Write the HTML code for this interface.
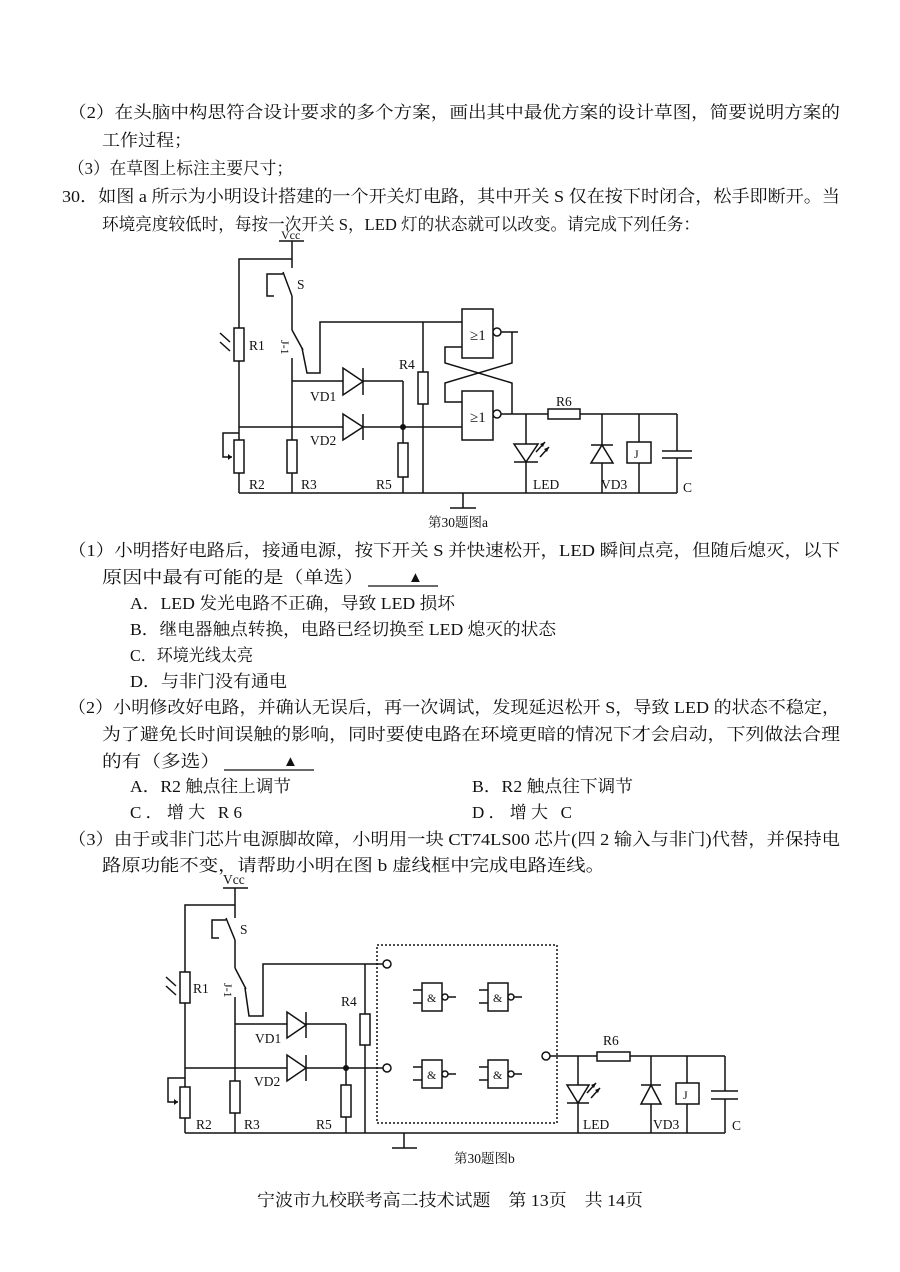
<!DOCTYPE html>
<html><head><meta charset="utf-8"><style>
html,body{margin:0;padding:0;background:#fff;}
svg{display:block;}
text{font-family:"Liberation Serif","Noto Serif CJK SC",serif;fill:#111;}
.t{font-size:17px;}
.s{font-size:13.5px;}
</style></head><body>
<svg width="900" height="1272" viewBox="0 0 900 1272" xmlns="http://www.w3.org/2000/svg">
<rect width="900" height="1272" fill="#fff"/>
<g class="t">
<text x="68" y="118" textLength="772" lengthAdjust="spacingAndGlyphs">（2）在头脑中构思符合设计要求的多个方案，画出其中最优方案的设计草图，简要说明方案的</text>
<text x="102" y="146" textLength="90" lengthAdjust="spacingAndGlyphs">工作过程；</text>
<text x="68" y="174" textLength="225" lengthAdjust="spacingAndGlyphs">（3）在草图上标注主要尺寸；</text>
<text x="62" y="202" textLength="778" lengthAdjust="spacingAndGlyphs">30．如图 a 所示为小明设计搭建的一个开关灯电路，其中开关 S 仅在按下时闭合，松手即断开。当</text>
<text x="102" y="230" textLength="598" lengthAdjust="spacingAndGlyphs">环境亮度较低时，每按一次开关 S，LED 灯的状态就可以改变。请完成下列任务：</text>

<text x="68" y="556" textLength="772" lengthAdjust="spacingAndGlyphs">（1）小明搭好电路后，接通电源，按下开关 S 并快速松开，LED 瞬间点亮，但随后熄灭，以下</text>
<text x="102" y="583" textLength="262" lengthAdjust="spacingAndGlyphs">原因中最有可能的是（单选）</text>
<text x="408" y="582" style="font-size:15px">▲</text>
<text x="130" y="609" textLength="325" lengthAdjust="spacingAndGlyphs">A．LED 发光电路不正确，导致 LED 损坏</text>
<text x="130" y="635" textLength="426" lengthAdjust="spacingAndGlyphs">B．继电器触点转换，电路已经切换至 LED 熄灭的状态</text>
<text x="130" y="661" textLength="123" lengthAdjust="spacingAndGlyphs">C．环境光线太亮</text>
<text x="130" y="687" textLength="157" lengthAdjust="spacingAndGlyphs">D．与非门没有通电</text>
<text x="68" y="713" textLength="772" lengthAdjust="spacingAndGlyphs">（2）小明修改好电路，并确认无误后，再一次调试，发现延迟松开 S，导致 LED 的状态不稳定，</text>
<text x="102" y="740" textLength="738" lengthAdjust="spacingAndGlyphs">为了避免长时间误触的影响，同时要使电路在环境更暗的情况下才会启动，下列做法合理</text>
<text x="102" y="767" textLength="118" lengthAdjust="spacingAndGlyphs">的有（多选）</text>
<text x="283" y="766" style="font-size:15px">▲</text>
<text x="130" y="792" textLength="161" lengthAdjust="spacingAndGlyphs">A．R2 触点往上调节</text>
<text x="472" y="792" textLength="161" lengthAdjust="spacingAndGlyphs">B．R2 触点往下调节</text>
<text x="130" y="818" textLength="112" lengthAdjust="spacing">C．增大 R6</text>
<text x="472" y="818" textLength="100" lengthAdjust="spacing">D．增大 C</text>
<text x="68" y="845" textLength="772" lengthAdjust="spacingAndGlyphs">（3）由于或非门芯片电源脚故障，小明用一块 CT74LS00 芯片(四 2 输入与非门)代替，并保持电</text>
<text x="102" y="871" textLength="503" lengthAdjust="spacingAndGlyphs">路原功能不变，请帮助小明在图 b 虚线框中完成电路连线。</text>

<text x="257" y="1206" textLength="386" lengthAdjust="spacingAndGlyphs">宁波市九校联考高二技术试题　第 13页　共 14页</text>
</g>
<line x1="368" y1="586" x2="438" y2="586" stroke="#111" stroke-width="1.3"/>
<line x1="224" y1="770" x2="314" y2="770" stroke="#111" stroke-width="1.3"/>

<!-- Circuit a -->
<g stroke="#111" stroke-width="1.5" fill="none">
<line x1="279" y1="241" x2="304" y2="241"/>
<line x1="292" y1="241" x2="292" y2="268"/>
<polyline points="292,259 239,259 239,493"/>
<rect x="234" y="328" width="10" height="33" fill="#fff"/>
<line x1="220" y1="333" x2="230" y2="342"/><line x1="220" y1="342" x2="230" y2="351"/>
<polyline points="283,274 267,274 267,296 274,296"/>
<line x1="283" y1="272" x2="292" y2="296"/>
<line x1="292" y1="296" x2="292" y2="330"/>
<line x1="292" y1="330" x2="303" y2="350"/>
<line x1="292" y1="358" x2="292" y2="493"/>
<polyline points="302,348 307,373 320,373 320,322 462,322"/>
<line x1="292" y1="381" x2="403" y2="381"/>
<line x1="403" y1="381" x2="403" y2="443"/>
<rect x="398" y="443" width="10" height="34" fill="#fff"/>
<line x1="403" y1="477" x2="403" y2="493"/>
<polygon points="343,368 343,395 363,381.5" fill="#fff"/><line x1="363" y1="368" x2="363" y2="395"/>
<line x1="239" y1="427" x2="462" y2="427"/>
<polygon points="343,414 343,440 363,427" fill="#fff"/><line x1="363" y1="414" x2="363" y2="440"/>
<line x1="423" y1="322" x2="423" y2="372"/>
<rect x="418" y="372" width="10" height="32" fill="#fff"/>
<line x1="423" y1="404" x2="423" y2="493"/>
<rect x="287" y="440" width="10" height="33" fill="#fff"/>
<rect x="234" y="440" width="10" height="33" fill="#fff"/>
<polyline points="239,433 223,433 223,457 232,457"/>
<rect x="462" y="309" width="31" height="49" fill="#fff"/>
<circle cx="497" cy="332" r="4" fill="#fff"/>
<line x1="501" y1="332" x2="518" y2="332"/>
<polyline points="512,332 512,363 445,383 445,402 462,402"/>
<polyline points="462,347 445,347 445,363 512,383 512,414"/>
<rect x="462" y="391" width="31" height="49" fill="#fff"/>
<circle cx="497" cy="414" r="4" fill="#fff"/>
<line x1="501" y1="414" x2="677" y2="414"/>
<rect x="548" y="409" width="32" height="10" fill="#fff"/>
<line x1="526" y1="414" x2="526" y2="493"/>
<polygon points="514,444 538,444 526,462" fill="#fff"/><line x1="514" y1="462" x2="538" y2="462"/>
<line x1="536" y1="452" x2="545" y2="442"/><line x1="540" y1="457" x2="549" y2="447"/>
<line x1="602" y1="414" x2="602" y2="493"/>
<polygon points="591,463 613,463 602,445" fill="#fff"/><line x1="591" y1="445" x2="613" y2="445"/>
<line x1="639" y1="414" x2="639" y2="493"/>
<rect x="627" y="442" width="24" height="21" fill="#fff"/>
<line x1="677" y1="414" x2="677" y2="451"/><line x1="677" y1="458" x2="677" y2="493"/>
<line x1="662" y1="451" x2="692" y2="451"/><line x1="662" y1="458" x2="692" y2="458"/>
<line x1="239" y1="493" x2="677" y2="493"/>
<line x1="463" y1="493" x2="463" y2="508"/><line x1="450" y1="508" x2="476" y2="508"/>
</g>
<circle cx="403" cy="427" r="3" fill="#111"/>
<g fill="#111"><polygon points="232,457 228,454 228,460"/><polygon points="545,442 540,444 543,447"/><polygon points="549,447 544,449 547,452"/></g>
<g class="s">
<text x="281" y="239" style="font-size:12px">Vcc</text>
<text x="297" y="289">S</text>
<text x="249" y="350">R1</text>
<text x="281" y="340" transform="rotate(90 281 340)" style="font-size:12px">J-1</text>
<text x="399" y="369">R4</text>
<text x="310" y="401">VD1</text>
<text x="310" y="445">VD2</text>
<text x="249" y="489">R2</text>
<text x="301" y="489">R3</text>
<text x="376" y="489">R5</text>
<text x="556" y="406">R6</text>
<text x="533" y="489">LED</text>
<text x="601" y="489">VD3</text>
<text x="683" y="492">C</text>
<text x="634" y="458" style="font-size:12px">J</text>
<text x="470" y="340" style="font-size:15px">≥1</text>
<text x="470" y="422" style="font-size:15px">≥1</text>
<text x="428" y="527">第30题图a</text>
</g>

<!-- Circuit b -->
<g stroke="#111" stroke-width="1.5" fill="none">
<line x1="223" y1="888" x2="248" y2="888"/>
<line x1="235" y1="888" x2="235" y2="918"/>
<polyline points="235,905 185,905 185,1133"/>
<rect x="180" y="972" width="10" height="31" fill="#fff"/>
<line x1="166" y1="977" x2="176" y2="986"/><line x1="166" y1="986" x2="176" y2="995"/>
<polyline points="226,920 212,920 212,938 219,938"/>
<line x1="226" y1="918" x2="235" y2="940"/>
<line x1="235" y1="940" x2="235" y2="968"/>
<line x1="235" y1="968" x2="246" y2="989"/>
<line x1="235" y1="997" x2="235" y2="1133"/>
<polyline points="245,988 249,1016 263,1016 263,964 383,964"/>
<circle cx="387" cy="964" r="4" fill="#fff"/>
<line x1="235" y1="1024" x2="346" y2="1024"/>
<line x1="346" y1="1024" x2="346" y2="1085"/>
<rect x="341" y="1085" width="10" height="32" fill="#fff"/>
<line x1="346" y1="1117" x2="346" y2="1133"/>
<polygon points="287,1012 287,1038 306,1025" fill="#fff"/><line x1="306" y1="1012" x2="306" y2="1038"/>
<line x1="185" y1="1068" x2="383" y2="1068"/>
<circle cx="387" cy="1068" r="4" fill="#fff"/>
<polygon points="287,1055 287,1081 306,1068" fill="#fff"/><line x1="306" y1="1055" x2="306" y2="1081"/>
<line x1="365" y1="964" x2="365" y2="1014"/>
<rect x="360" y="1014" width="10" height="31" fill="#fff"/>
<line x1="365" y1="1045" x2="365" y2="1133"/>
<rect x="230" y="1081" width="10" height="32" fill="#fff"/>
<rect x="180" y="1087" width="10" height="31" fill="#fff"/>
<polyline points="185,1078 168,1078 168,1102 178,1102"/>
<rect x="377" y="945" width="180" height="178" stroke-dasharray="2,2"/>
<g id="gA"><line x1="413" y1="990" x2="422" y2="990"/><line x1="413" y1="1003" x2="422" y2="1003"/><rect x="422" y="983" width="20" height="28" fill="#fff"/><circle cx="445" cy="997" r="3" fill="#fff"/><line x1="448" y1="997" x2="456" y2="997"/></g>
<use href="#gA" x="66" y="0"/>
<use href="#gA" x="0" y="77"/>
<use href="#gA" x="66" y="77"/>
<circle cx="546" cy="1056" r="4" fill="#fff"/>
<line x1="550" y1="1056" x2="725" y2="1056"/>
<rect x="597" y="1052" width="33" height="9" fill="#fff"/>
<line x1="578" y1="1056" x2="578" y2="1133"/>
<polygon points="567,1085 589,1085 578,1103" fill="#fff"/><line x1="567" y1="1103" x2="589" y2="1103"/>
<line x1="587" y1="1093" x2="596" y2="1083"/><line x1="591" y1="1098" x2="600" y2="1088"/>
<line x1="651" y1="1056" x2="651" y2="1133"/>
<polygon points="641,1104 661,1104 651,1085" fill="#fff"/><line x1="641" y1="1085" x2="661" y2="1085"/>
<line x1="687" y1="1056" x2="687" y2="1133"/>
<rect x="676" y="1083" width="23" height="21" fill="#fff"/>
<line x1="725" y1="1056" x2="725" y2="1091"/><line x1="725" y1="1099" x2="725" y2="1133"/>
<line x1="711" y1="1091" x2="738" y2="1091"/><line x1="711" y1="1099" x2="738" y2="1099"/>
<line x1="185" y1="1133" x2="725" y2="1133"/>
<line x1="404" y1="1133" x2="404" y2="1148"/><line x1="392" y1="1148" x2="417" y2="1148"/>
</g>
<circle cx="346" cy="1068" r="3" fill="#111"/>
<g fill="#111"><polygon points="178,1102 174,1099 174,1105"/><polygon points="596,1083 591,1085 594,1088"/><polygon points="600,1088 595,1090 598,1093"/></g>
<g class="s">
<text x="223" y="884">Vcc</text>
<text x="240" y="934">S</text>
<text x="193" y="993">R1</text>
<text x="224" y="983" transform="rotate(90 224 983)" style="font-size:12px">J-1</text>
<text x="341" y="1006">R4</text>
<text x="255" y="1043">VD1</text>
<text x="254" y="1086">VD2</text>
<text x="196" y="1129">R2</text>
<text x="244" y="1129">R3</text>
<text x="316" y="1129">R5</text>
<text x="603" y="1045">R6</text>
<text x="583" y="1129">LED</text>
<text x="653" y="1129">VD3</text>
<text x="732" y="1130">C</text>
<text x="683" y="1099" style="font-size:12px">J</text>
<text x="427" y="1002" style="font-size:12px">&amp;</text>
<text x="493" y="1002" style="font-size:12px">&amp;</text>
<text x="427" y="1079" style="font-size:12px">&amp;</text>
<text x="493" y="1079" style="font-size:12px">&amp;</text>
<text x="454" y="1163">第30题图b</text>
</g>
</svg>
</body></html>
